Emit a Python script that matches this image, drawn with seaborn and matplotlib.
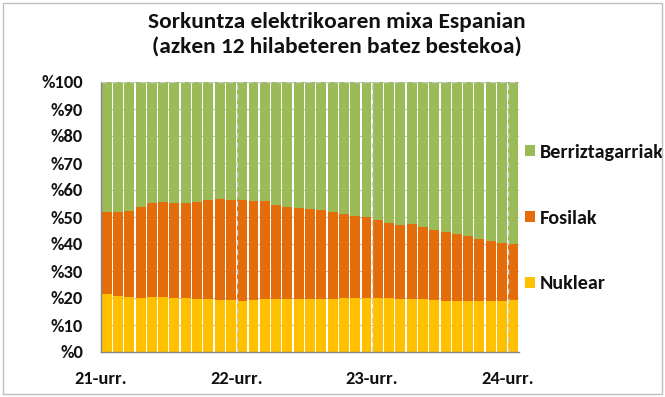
import matplotlib
matplotlib.use("Agg")
import matplotlib.pyplot as plt
from matplotlib.patches import Patch, Rectangle
import pandas as pd
import seaborn as sns

# Monthly shares (%) of the 12-month rolling average generation mix, Oct 2021 - Oct 2024
months = [f"{y}-{m:02d}" for y, m in
          [(2021 + (9 + i) // 12, (9 + i) % 12 + 1) for i in range(37)]]
nuclear = [21.5, 20.7, 20.2, 20.1, 20.4, 20.2, 20.1, 19.9, 19.8, 19.6, 19.4, 19.1,
           18.9, 19.3, 19.6, 19.6, 19.6, 19.6, 19.6, 19.6, 19.6, 19.9, 19.9, 20.0,
           20.0, 19.9, 19.8, 19.8, 19.6, 19.3, 19.0, 18.9, 18.9, 18.9, 18.9, 19.0, 19.3]
fossil = [30.5, 31.3, 32.1, 33.5, 34.7, 35.5, 35.2, 35.3, 35.9, 36.7, 37.1, 37.3,
          37.5, 36.6, 36.3, 34.7, 34.2, 33.6, 33.4, 33.0, 32.4, 31.3, 30.6, 29.9,
          29.0, 28.0, 27.4, 27.7, 26.8, 26.0, 25.6, 24.9, 23.9, 23.1, 22.3, 21.5, 20.8]
renewables = [48.0, 48.0, 47.7, 46.4, 44.9, 44.3, 44.7, 44.8, 44.3, 43.7, 43.5, 43.6,
              43.6, 44.1, 44.1, 45.7, 46.2, 46.8, 47.0, 47.4, 48.0, 48.8, 49.5, 50.1,
              51.0, 52.1, 52.8, 52.5, 53.6, 54.7, 55.4, 56.2, 57.2, 58.0, 58.8, 59.5, 59.9]

series_names = ["Berriztagarriak", "Fosilak", "Nuklear"]
colors = {"Berriztagarriak": "#9BBB59", "Fosilak": "#E46C0A", "Nuklear": "#FFC000"}
xtick_labels = ["21-urr.", "22-urr.", "23-urr.", "24-urr."]
ytick_values = list(range(0, 101, 10))
title_lines = ["Sorkuntza elektrikoaren mixa Espanian",
               "(azken 12 hilabeteren batez bestekoa)"]

df = pd.DataFrame({"month": months, "Nuklear": nuclear,
                   "Fosilak": fossil, "Berriztagarriak": renewables})
df["top_fossil"] = df["Nuklear"] + df["Fosilak"]
df["top_all"] = df["top_fossil"] + df["Berriztagarriak"]

sns.set_style("white")
FONT = "Carlito"
plt.rcParams["font.family"] = FONT
plt.rcParams["font.weight"] = "bold"
TEXT = "#111111"

fig = plt.figure(figsize=(6.65, 3.97), dpi=100)
ax = fig.add_axes([101 / 665, 45 / 397, 418 / 665, 270 / 397])

bar_kw = dict(width=0.88, saturation=1, linewidth=0, ax=ax, zorder=2)
sns.barplot(data=df, x="month", y="top_all", color=colors["Berriztagarriak"], **bar_kw)
sns.barplot(data=df, x="month", y="top_fossil", color=colors["Fosilak"], **bar_kw)
sns.barplot(data=df, x="month", y="Nuklear", color=colors["Nuklear"], **bar_kw)

ax.set_xlim(-0.5, 36.5)
ax.set_ylim(0, 100)
ax.set_xlabel("")
ax.set_ylabel("")

tick_pos = [-0.5, 11.5, 23.5, 35.5]
ax.set_xticks(tick_pos, xtick_labels)
ax.set_yticks(ytick_values, [f"%{v}" for v in ytick_values])
ax.tick_params(axis="both", which="both", direction="out", length=5, width=1,
               color="#868686", labelsize=13.3, labelcolor=TEXT)
ax.tick_params(axis="x", pad=9)
ax.tick_params(axis="y", pad=8)
for lab in ax.get_xticklabels() + ax.get_yticklabels():
    lab.set_fontfamily(FONT)
    lab.set_fontweight("bold")

# horizontal gridlines behind the bars, dashed October markers on top
ax.set_axisbelow(True)
ax.yaxis.grid(True, color="#BFBFBF", linewidth=0.8)
ax.xaxis.grid(False)
for xp in tick_pos[1:]:
    ax.axvline(xp, color="#D0D0D0", linestyle=(0, (4, 3)), linewidth=1, zorder=3)
ax.axhline(100, color="#C8C8C8", linestyle=(0, (4, 3)), linewidth=1, zorder=3)

for side in ["top", "right"]:
    ax.spines[side].set_visible(False)
for side in ["left", "bottom"]:
    ax.spines[side].set_color("#868686")
    ax.spines[side].set_linewidth(1)

handles = [Patch(facecolor=colors[n], edgecolor="none") for n in series_names]
leg = ax.legend(handles, series_names, loc="center left", bbox_to_anchor=(1.015, 0.496),
                frameon=False, handlelength=0.48, handleheight=0.48, handletextpad=0.24,
                labelspacing=2.42, borderpad=0, borderaxespad=0,
                prop={"family": FONT, "weight": "bold", "size": 14.5})
for t in leg.get_texts():
    t.set_color(TEXT)

for line, ypx in zip(title_lines, [28, 52.5]):
    fig.text(0.506, 1 - ypx / 397, line, ha="center", va="baseline",
             fontsize=16.8, fontweight="bold", family=FONT, color=TEXT)

fig.patches.append(Rectangle((3 / 665, 3 / 397), 659 / 665, 391 / 397,
                             transform=fig.transFigure, fill=False,
                             edgecolor="#BFBFBF", linewidth=1))

fig.savefig("out.png", dpi=100)
